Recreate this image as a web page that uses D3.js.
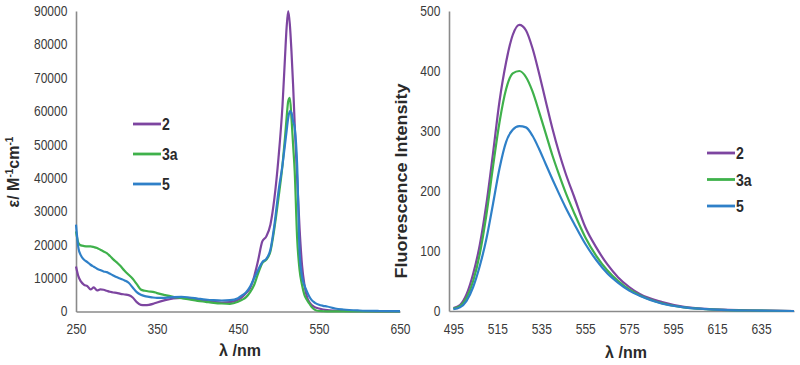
<!DOCTYPE html>
<html><head><meta charset="utf-8">
<script src="https://cdn.jsdelivr.net/npm/d3@7"></script>
<style>
html,body{margin:0;padding:0;background:#fff;}
svg{display:block;}
.tick text{font-family:"Liberation Sans Narrow","Arial Narrow","Liberation Sans",sans-serif;font-size:14px;fill:#3a3a3a;}
.ttl{font-family:"Liberation Sans","Arial",sans-serif;font-weight:bold;fill:#2a2a2a;}
.leg{font-family:"Liberation Sans","Arial",sans-serif;font-weight:bold;font-size:16px;fill:#2a2a2a;}
</style></head>
<body>
<svg id="c" width="800" height="365"></svg>
<script>
// ---------- DATA ----------
const seriesNames = ["2", "3a", "5"];
const seriesColors = ["#7d45a0", "#3fb14b", "#2f80c8"];

// Absorption (left panel)
const absWavelengths = [250,253,256,260,264,268,272,276,280,284,288,292,296,300,305,310,315,320,325,330,335,340,345,350,360,370,380,390,400,410,420,430,440,450,455,460,465,470,475,480,485,490,495,500,505,508,510,512,514,516,518,520,523,526,529,532,535,538,541,545,550,555,560,570,580,600,625,650];
const abs2  = [13500,10500,9000,8000,7600,6600,7200,6300,6600,6500,6200,5900,5700,5600,5300,5100,4900,4200,2800,2000,1900,2000,2300,2700,3400,3900,4100,3900,3600,3200,2900,2700,2800,3500,4300,5500,7000,10500,15500,21000,22500,26000,34000,46000,62000,76000,85000,90000,86000,78000,68000,56000,40000,25000,14000,8000,4500,2800,1900,1300,900,600,400,250,150,80,40,20];
const abs3a = [24000,20500,19800,19600,19500,19500,19300,19000,18500,18000,17500,16600,15600,14800,13600,12200,11000,9800,8200,6600,6200,6000,5900,5500,4900,4400,4000,3600,3200,2900,2600,2400,2300,2900,3500,4300,5800,8000,11500,14500,15500,18000,25000,34000,44000,52000,58000,63000,64000,58000,50000,42000,22000,12500,8000,5000,3500,2400,1300,500,150,80,50,40,30,20,10,0];
const abs5  = [26000,19000,16800,15500,14800,14000,13400,12800,12400,12000,11800,11300,10800,10300,9800,9300,8600,7200,5800,5000,4600,4400,4200,4100,4100,4300,4400,4200,3900,3600,3400,3300,3400,4000,4800,5800,7500,10000,12500,14800,15800,18500,26000,36000,44000,50000,54000,58000,60000,59500,57000,55000,44000,18000,10500,7800,6000,4500,3400,2600,2000,1700,1500,900,600,300,150,100];
const absXTicks = [250,350,450,550,650];
const absYTicks = [0,10000,20000,30000,40000,50000,60000,70000,80000,90000];

// Fluorescence (right panel)
const emWavelengths = [495,498,501,504,507,510,513,516,519,522,525,528,531,534,537,540,543,546,550,555,560,565,570,575,580,590,600,610,620,630,640,650];
const em2  = [5,10,28,62,110,178,262,350,415,460,477,468,438,396,350,305,265,230,190,140,106,78,56,40,28,15,7,3.5,2,1,0.5,0];
const em3a = [4,8,22,50,95,160,240,315,370,396,400,390,366,332,296,260,228,198,163,123,92,68,50,36,26,13,6,3,1.5,0.8,0.4,0];
const em5  = [3,6,17,40,75,120,178,238,282,302,308,306,292,270,245,220,196,173,145,112,85,63,47,34,25,12,6,3,1.5,0.8,0.4,0];
const emXTicks = [495,515,535,555,575,595,615,635];
const emYTicks = [0,100,200,300,400,500];

// ---------- DRAW ----------
const svg = d3.select("#c");
const axisColor = "#8a8a8a";

function panel(cfg) {
  const x = d3.scaleLinear().domain(cfg.xDomain).range(cfg.xRange);
  const y = d3.scaleLinear().domain(cfg.yDomain).range(cfg.yRange);
  const g = svg.append("g");

  const xa = g.append("g").attr("transform", `translate(0,${cfg.yRange[0]})`)
    .call(d3.axisBottom(x).tickValues(cfg.xTicks).tickSize(0).tickSizeOuter(0).tickPadding(13).tickFormat(d3.format("d")));
  xa.select(".domain").attr("stroke", axisColor).attr("stroke-width", 1.6);
  xa.selectAll(".tick text").attr("transform", "scale(0.86,1)");

  const ya = g.append("g").attr("transform", `translate(${cfg.xRange[0]},0)`)
    .call(d3.axisLeft(y).tickValues(cfg.yTicks).tickSize(0).tickSizeOuter(0).tickPadding(10).tickFormat(d3.format("d")));
  ya.select(".domain").attr("stroke", axisColor).attr("stroke-width", 1.6);
  ya.selectAll(".tick text").attr("transform", "scale(0.86,1)");

  const line = d3.line().curve(d3.curveMonotoneX)
    .x(d => x(d[0])).y(d => y(d[1]));

  cfg.series.forEach((vals, i) => {
    const pts = cfg.wl.map((w, k) => [w, vals[k]]);
    g.append("path").datum(pts)
      .attr("fill", "none").attr("stroke", seriesColors[i])
      .attr("stroke-width", 2.2).attr("stroke-linejoin", "round")
      .attr("d", line);
  });

  // legend
  const lg = g.selectAll(".lg").data(seriesNames).join("g")
    .attr("transform", (d, i) => `translate(${cfg.legX},${cfg.legY + i * cfg.legStep})`);
  lg.append("line").attr("x1", 0).attr("x2", 28).attr("y1", 0).attr("y2", 0)
    .attr("stroke", (d, i) => seriesColors[i]).attr("stroke-width", 2.8);
  lg.append("text").attr("class", "leg").attr("transform", "translate(29,6) scale(0.88,1)").text(d => d);
  return {x, y, g};
}

const L = panel({
  xDomain: [250, 650], xRange: [76, 400],
  yDomain: [0, 90000], yRange: [311.5, 11],
  xTicks: absXTicks, yTicks: absYTicks,
  wl: absWavelengths, series: [abs2, abs3a, abs5],
  legX: 133, legY: 124, legStep: 30
});

const R = panel({
  xDomain: [493, 650], xRange: [449, 794],
  yDomain: [0, 500], yRange: [311, 11],
  xTicks: emXTicks, yTicks: emYTicks,
  wl: emWavelengths, series: [em2, em3a, em5],
  legX: 707, legY: 153, legStep: 26.5
});

// axis titles
svg.append("text").attr("class", "ttl").attr("x", 240).attr("y", 356)
  .attr("text-anchor", "middle").attr("font-size", 16).text("λ /nm");
svg.append("text").attr("class", "ttl").attr("x", 626).attr("y", 358)
  .attr("text-anchor", "middle").attr("font-size", 16).text("λ /nm");

const yt1 = svg.append("text").attr("class", "ttl")
  .attr("transform", "translate(19,172) rotate(-90)")
  .attr("text-anchor", "middle").attr("font-size", 16);
yt1.append("tspan").text("ε/ M");
yt1.append("tspan").attr("font-size", 10).attr("dy", -6).text("-1");
yt1.append("tspan").attr("dy", 6).text("cm");
yt1.append("tspan").attr("font-size", 10).attr("dy", -6).text("-1");

svg.append("text").attr("class", "ttl")
  .attr("transform", "translate(407,181) rotate(-90)")
  .attr("text-anchor", "middle").attr("font-size", 17)
  .attr("textLength", 195).attr("lengthAdjust", "spacingAndGlyphs")
  .text("Fluorescence Intensity");
</script>
</body></html>
